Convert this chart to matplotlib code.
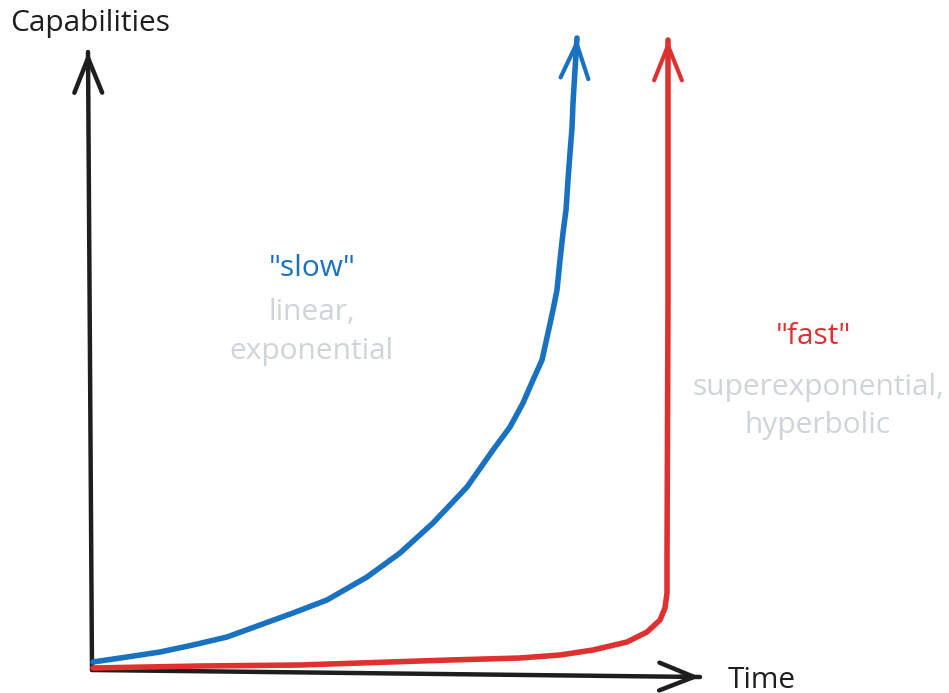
import matplotlib.pyplot as plt

# sketch drawn in pixel space (x to the right, y downwards)
slow_x = [93, 127, 160, 193, 227, 260, 293, 327, 367, 400, 433, 467, 493, 510, 523, 533, 542, 548,
          553, 557, 560, 563, 566, 568, 570, 572, 573, 575, 577]
slow_y = [662, 657, 652, 645, 637, 625, 613, 600, 577, 553, 523, 487, 450, 427, 403, 380, 360, 333,
          310, 290, 260, 233, 210, 180, 153, 128, 103, 70, 38]

fast_x = [93, 200, 300, 360, 450, 520, 560, 593, 627, 647, 660, 665, 667, 667, 668, 668]
fast_y = [668, 666, 665, 663, 660, 658, 655, 650, 642, 632, 620, 608, 593, 560, 300, 40]

# axes: top of vertical axis, origin, end of horizontal axis
axis_x = [88, 92, 700]
axis_y = [52, 670, 677]

blue = '#1971c2'
red = '#e03131'
gray = '#ced4da'
ink = '#1e1e1e'

fig = plt.figure(figsize=(9.49, 6.93), dpi=100)
ax = fig.add_axes([0, 0, 1, 1])
ax.set_xlim(0, 949)
ax.set_ylim(693, 0)
ax.axis('off')

head = dict(arrowstyle='->,head_length=2.5,head_width=1.0', lw=3, capstyle='round',
            joinstyle='round', shrinkA=0, shrinkB=0)


def arrow_tip(x0, y0, x1, y1, color, lw=3):
    # short arrow along the last segment so only the head shows
    dx, dy = x1 - x0, y1 - y0
    n = (dx * dx + dy * dy) ** 0.5
    ax.annotate('', xy=(x1, y1), xytext=(x1 - 20 * dx / n, y1 - 20 * dy / n),
                arrowprops=dict(head, color=color, lw=lw))


# axes
ax.plot(axis_x[:2], axis_y[:2], color=ink, lw=3.2, solid_capstyle='round')
ax.plot(axis_x[1:], axis_y[1:], color=ink, lw=3.2, solid_capstyle='round')
arrow_tip(axis_x[1], axis_y[1], axis_x[0], axis_y[0], ink, 3.2)
arrow_tip(axis_x[1], axis_y[1], axis_x[2], axis_y[2], ink, 3.2)

# curves
ax.plot(fast_x, fast_y, color=red, lw=4, solid_capstyle='round', solid_joinstyle='round')
ax.plot(slow_x, slow_y, color=blue, lw=4, solid_capstyle='round', solid_joinstyle='round')
arrow_tip(slow_x[-2], slow_y[-2], slow_x[-1], slow_y[-1], blue)
arrow_tip(fast_x[-2], fast_y[-2], fast_x[-1], fast_y[-1], red)

font = 'Open Sans'
fs = 21.5
ax.text(10, 24, 'Capabilities', fontsize=fs, color=ink, family=font, va='center', ha='left')
ax.text(728, 680, 'Time', fontsize=fs, color=ink, family=font, va='center', ha='left')

ax.text(312, 268, '"slow"', fontsize=fs, color=blue, family=font, ha='center', va='center')
ax.text(312, 313, 'linear,', fontsize=fs, color=gray, family=font, ha='center', va='center')
ax.text(312, 352, 'exponential', fontsize=fs, color=gray, family=font, ha='center', va='center')

ax.text(813, 337, '"fast"', fontsize=fs, color=red, family=font, ha='center', va='center')
ax.text(818, 388, 'superexponential,', fontsize=fs, color=gray, family=font, ha='center', va='center')
ax.text(818, 425, 'hyperbolic', fontsize=fs, color=gray, family=font, ha='center', va='center')

fig.savefig('out.png', dpi=100)
